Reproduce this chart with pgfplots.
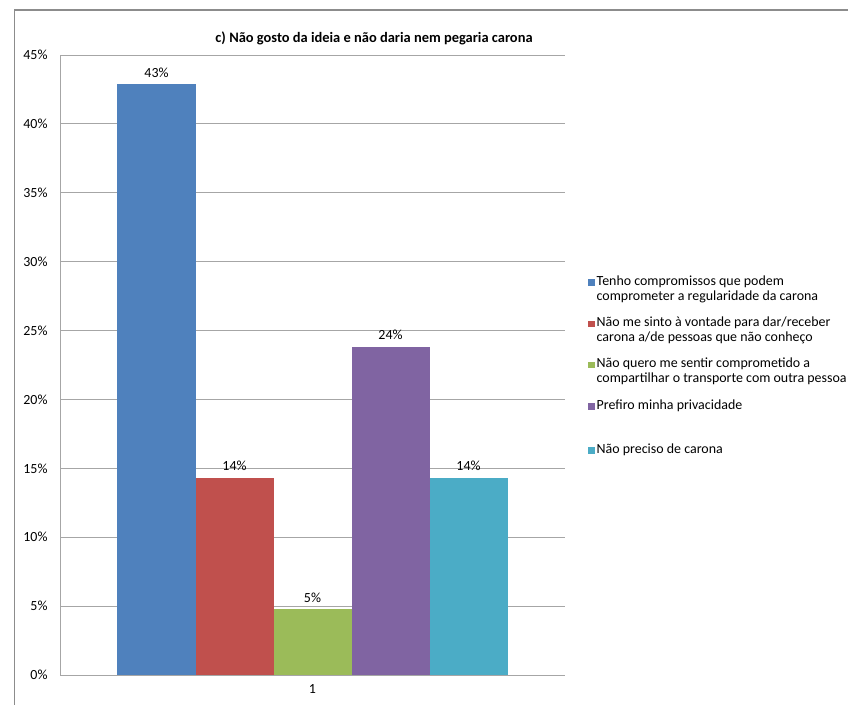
\documentclass[border=0pt]{standalone}
\usepackage{fontspec}
\setmainfont{Carlito}
\usepackage{pgfplots}
\pgfplotsset{compat=1.18}

\definecolor{s1}{HTML}{4F81BD}
\definecolor{s2}{HTML}{C0504D}
\definecolor{s3}{HTML}{9BBB59}
\definecolor{s4}{HTML}{8064A2}
\definecolor{s5}{HTML}{4BACC6}
\definecolor{gridc}{HTML}{A6A6A6}
\definecolor{framec}{HTML}{8C8C8C}

\begin{document}
\begin{tikzpicture}
\useasboundingbox (0bp,0bp) rectangle (848bp,-705bp);
% chart frame (cut by the picture edge on the right and bottom)
\draw[framec, line width=1.3bp] (14.5bp,-710bp) -- (14.5bp,-10bp) -- (852bp,-10bp);
\node[font=\bfseries\fontsize{14.5}{16}\selectfont, anchor=base] at (374bp,-42bp)
  {c) Não gosto da ideia e não daria nem pegaria carona};

\begin{axis}[
    at={(60bp,-675bp)}, anchor=south west,
    scale only axis, width=505bp, height=620bp,
    ybar=0pt, bar width=78bp,
    xmin=0, xmax=2, ymin=0, ymax=45,
    xtick={1}, xticklabels={1},
    ytick={0,5,...,45},
    yticklabel={\pgfmathprintnumber[assume math mode=true]{\tick}\%},
    ymajorgrids, grid style={gridc, line width=1bp},
    axis x line*=bottom, axis y line*=left,
    axis line style={gridc, line width=1bp},
    major tick length=0pt,
    tick label style={font=\fontsize{14}{16}\selectfont, text=black},
    yticklabel style={xshift=-9bp},
    xticklabel style={yshift=-6bp},
    nodes near coords={\pgfmathprintnumber[fixed,precision=0,assume math mode=true]{\pgfplotspointmeta}\%},
    every node near coord/.append style={font=\fontsize{14}{16}\selectfont, text=black, yshift=3.5bp},
    clip=false,
    legend cell align=left,
    legend style={at={(1,1)}, anchor=north west, xshift=23bp, yshift=-218bp,
        draw=none, fill=none, inner sep=0pt, row sep=11bp, column sep=0pt,
        font=\fontsize{14}{15}\selectfont,
        cells={anchor=north west, align=left, inner sep=1.5bp}},
    legend image code/.code={\fill[#1] (0bp,-12.5bp) rectangle (6.5bp,-6bp);},
]
\addplot[fill=s1, draw=none] coordinates {(1,42.86)};
\addlegendentry{Tenho compromissos que podem\\comprometer a regularidade da carona}
\addplot[fill=s2, draw=none] coordinates {(1,14.29)};
\addlegendentry{Não me sinto à vontade para dar/receber\\carona a/de pessoas que não conheço}
\addplot[fill=s3, draw=none] coordinates {(1,4.76)};
\addlegendentry{Não quero me sentir comprometido a\\compartilhar o transporte com outra pessoa}
\addplot[fill=s4, draw=none] coordinates {(1,23.81)};
\addlegendentry{Prefiro minha privacidade\\[3bp]\mbox{}}
\addplot[fill=s5, draw=none] coordinates {(1,14.29)};
\addlegendentry{Não preciso de carona}
\end{axis}
\end{tikzpicture}
\end{document}
